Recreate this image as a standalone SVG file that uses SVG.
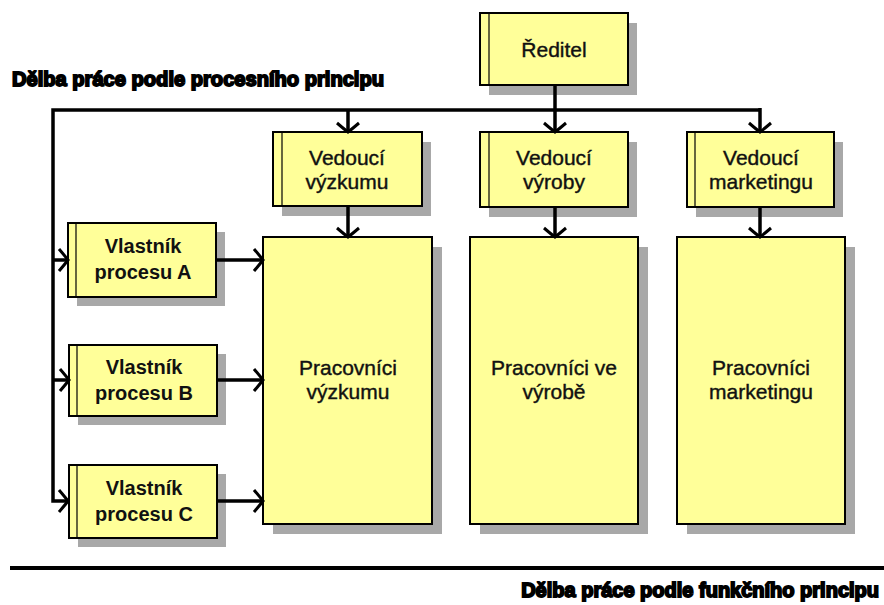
<svg xmlns="http://www.w3.org/2000/svg" width="884" height="605" viewBox="0 0 884 605">
<defs>
<style>
.sh{fill:#a8a8a8}
.bx{fill:#ffff99;stroke:#000;stroke-width:2}
.st{stroke:#000;stroke-width:1.2}
.t{font-family:"Liberation Sans",Arial,sans-serif;font-size:21px;fill:#111;stroke:#111;stroke-width:0.4;text-anchor:middle}
.tb{font-family:"Liberation Sans",Arial,sans-serif;font-size:20px;font-weight:bold;fill:#111;text-anchor:middle}
.hd{font-family:"Liberation Sans",Arial,sans-serif;font-size:20px;font-weight:bold;fill:#000;stroke:#000;stroke-width:1.8}
.c{fill:none;stroke:#000;stroke-width:3.5}
</style>
<marker id="ah" markerUnits="userSpaceOnUse" viewBox="-12 -13 14 26" refX="0" refY="0" markerWidth="14" markerHeight="26" orient="auto">
<path d="M-9,-11 Q-3,-4 0,0 Q-3,4 -9,11" fill="none" stroke="#000" stroke-width="3"/>
</marker>
</defs>
<rect width="884" height="605" fill="#fff"/>
<text class="hd" x="12" y="86" textLength="372" lengthAdjust="spacingAndGlyphs">Dělba práce podle procesního principu</text>

<g id="reditel">
<rect class="sh" x="489" y="23" width="148" height="72"/>
<rect class="bx" x="480" y="13" width="148" height="72"/>
<line class="st" x1="489" y1="13" x2="489" y2="85"/>
<text class="t" x="554" y="57">Ředitel</text>
</g>

<g id="vedouci-vyzkumu">
<rect class="sh" x="282" y="142" width="149" height="74"/>
<rect class="bx" x="273" y="132" width="149" height="74"/>
<line class="st" x1="282" y1="132" x2="282" y2="206"/>
<text class="t" x="347" y="165">Vedoucí</text>
<text class="t" x="347" y="189">výzkumu</text>
</g>

<g id="vedouci-vyroby">
<rect class="sh" x="489" y="142" width="148" height="75"/>
<rect class="bx" x="480" y="132" width="148" height="75"/>
<line class="st" x1="489" y1="132" x2="489" y2="207"/>
<text class="t" x="554" y="165">Vedoucí</text>
<text class="t" x="554" y="189">výroby</text>
</g>

<g id="vedouci-marketingu">
<rect class="sh" x="696" y="142" width="147" height="75"/>
<rect class="bx" x="687" y="132" width="147" height="75"/>
<line class="st" x1="695" y1="132" x2="695" y2="207"/>
<text class="t" x="761" y="165">Vedoucí</text>
<text class="t" x="761" y="189">marketingu</text>
</g>

<g id="vlastnik-a">
<rect class="sh" x="77" y="232" width="148" height="74"/>
<rect class="bx" x="68" y="223" width="148" height="74"/>
<line class="st" x1="76" y1="223" x2="76" y2="297"/>
<text class="tb" x="143" y="253">Vlastník</text>
<text class="tb" x="143" y="279">procesu A</text>
</g>

<g id="vlastnik-b">
<rect class="sh" x="78" y="354" width="148" height="71"/>
<rect class="bx" x="69" y="345" width="148" height="71"/>
<line class="st" x1="77" y1="345" x2="77" y2="416"/>
<text class="tb" x="144" y="374">Vlastník</text>
<text class="tb" x="144" y="400">procesu B</text>
</g>

<g id="vlastnik-c">
<rect class="sh" x="78" y="474" width="148" height="73"/>
<rect class="bx" x="69" y="465" width="148" height="73"/>
<line class="st" x1="77" y1="465" x2="77" y2="538"/>
<text class="tb" x="144" y="495">Vlastník</text>
<text class="tb" x="144" y="521">procesu C</text>
</g>

<g id="pracovnici-vyzkumu">
<rect class="sh" x="273" y="247" width="169" height="287"/>
<rect class="bx" x="263" y="237" width="169" height="287"/>
<text class="t" x="348" y="375">Pracovníci</text>
<text class="t" x="348" y="399">výzkumu</text>
</g>

<g id="pracovnici-vyroba">
<rect class="sh" x="480" y="247" width="168" height="287"/>
<rect class="bx" x="470" y="237" width="168" height="287"/>
<text class="t" x="554" y="375">Pracovníci ve</text>
<text class="t" x="554" y="399">výrobě</text>
</g>

<g id="pracovnici-marketingu">
<rect class="sh" x="687" y="247" width="168" height="287"/>
<rect class="bx" x="677" y="237" width="168" height="287"/>
<text class="t" x="761" y="375">Pracovníci</text>
<text class="t" x="761" y="399">marketingu</text>
</g>

<g id="connectors">
<line class="c" x1="555" y1="85" x2="555" y2="110"/>
<path class="c" d="M760,110 L53,110 L53,501 L68,501" marker-end="url(#ah)"/>
<line class="c" x1="348" y1="110" x2="348" y2="132" marker-end="url(#ah)"/>
<line class="c" x1="555" y1="110" x2="555" y2="132" marker-end="url(#ah)"/>
<line class="c" x1="760" y1="108" x2="760" y2="132" marker-end="url(#ah)"/>
<line class="c" x1="53" y1="260" x2="68" y2="260" marker-end="url(#ah)"/>
<line class="c" x1="53" y1="380" x2="69" y2="380" marker-end="url(#ah)"/>
<line class="c" x1="348" y1="206" x2="348" y2="237" marker-end="url(#ah)"/>
<line class="c" x1="555" y1="207" x2="555" y2="237" marker-end="url(#ah)"/>
<line class="c" x1="760" y1="207" x2="760" y2="237" marker-end="url(#ah)"/>
<line class="c" x1="216" y1="260" x2="263" y2="260" marker-end="url(#ah)"/>
<line class="c" x1="217" y1="380" x2="263" y2="380" marker-end="url(#ah)"/>
<line class="c" x1="217" y1="501" x2="263" y2="501" marker-end="url(#ah)"/>
</g>

<line x1="10" y1="568" x2="884" y2="568" stroke="#000" stroke-width="4"/>
<text class="hd" x="879" y="597" text-anchor="end">Dělba práce podle funkčního principu</text>
</svg>
